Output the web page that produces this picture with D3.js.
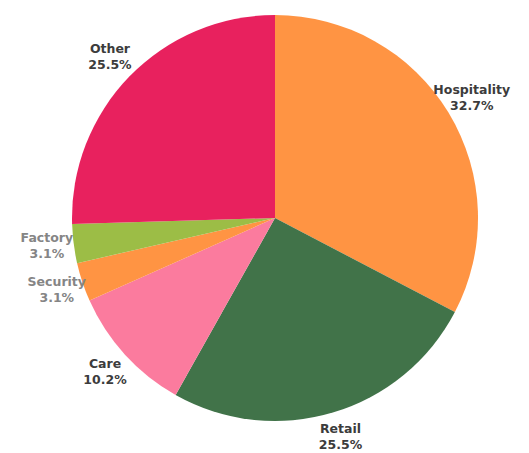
<!DOCTYPE html>
<html>
<head>
<meta charset="utf-8">
<script src="https://cdn.jsdelivr.net/npm/d3@7"></script>
<style>
  html, body { margin: 0; padding: 0; background: #ffffff; }
  svg { display: block; }
  .lbl { font-family: "DejaVu Sans", sans-serif; font-weight: bold; font-size: 12.5px; }
</style>
</head>
<body>
<svg id="chart" width="529" height="453"></svg>
<script>
// Share of workers by sector (percent)
const sectors = ["Hospitality", "Retail", "Care", "Security", "Factory", "Other"];
const shares = [32.7, 25.5, 10.2, 3.1, 3.1, 25.5];
const sectorColors = ["#ff9443", "#417349", "#fb7b9e", "#ff9443", "#9cbd46", "#e8215e"];

const width = 529, height = 453;
const cx = 275, cy = 218, radius = 203, labelRadius = 230;

const svg = d3.select("#chart");
const g = svg.append("g").attr("transform", `translate(${cx},${cy})`);

const data = sectors.map((name, i) => ({ name, value: shares[i], color: sectorColors[i] }));

const pie = d3.pie().value(d => d.value).sort(null);
const arc = d3.arc().innerRadius(0).outerRadius(radius);
const labelArc = d3.arc().innerRadius(labelRadius).outerRadius(labelRadius);

const arcs = pie(data);

g.selectAll("path.slice")
  .data(arcs)
  .join("path")
  .attr("class", "slice")
  .attr("d", arc)
  .attr("fill", d => d.data.color);

const small = d => d.data.value < 5;

const labels = g.selectAll("text.lbl")
  .data(arcs)
  .join("text")
  .attr("class", "lbl")
  .attr("text-anchor", "middle")
  .attr("fill", d => small(d) ? "#858585" : "#3c3c3c")
  .attr("transform", d => {
    const [x, y] = labelArc.centroid(d);
    return `translate(${x},${y})`;
  });

labels.append("tspan")
  .attr("x", 0)
  .attr("y", -5)
  .text(d => d.data.name);

labels.append("tspan")
  .attr("x", 0)
  .attr("y", 11)
  .text(d => d3.format(".1f")(d.data.value) + "%");
</script>
</body>
</html>
